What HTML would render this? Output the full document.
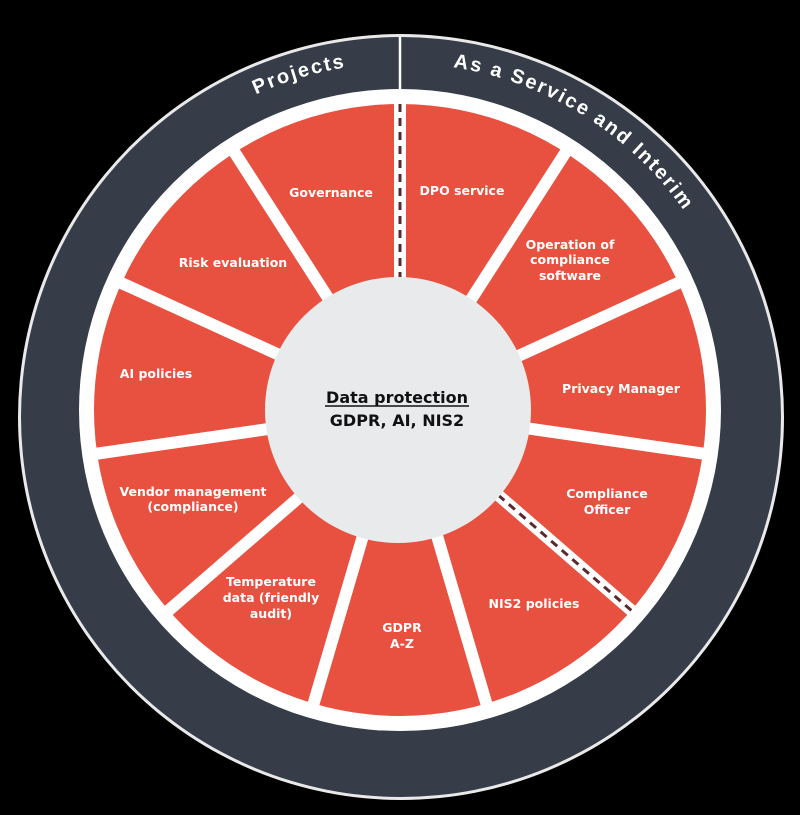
<!DOCTYPE html>
<html><head><meta charset="utf-8"><style>
html,body{margin:0;padding:0;background:#000;}
svg{display:block}
.l{font-family:"DejaVu Sans","Liberation Sans",sans-serif;font-weight:bold;font-size:12.5px;fill:#fff;text-anchor:middle}
.r{font-family:"Liberation Sans",sans-serif;font-weight:bold;font-size:20px;fill:#fff;letter-spacing:2px}
.c{font-family:"DejaVu Sans","Liberation Sans",sans-serif;font-weight:bold;font-size:16px;fill:#111;text-anchor:middle}
</style></head><body>
<svg width="800" height="815" viewBox="0 0 800 815" xmlns="http://www.w3.org/2000/svg">
<rect width="800" height="815" fill="#000"/>
<circle cx="401" cy="417" r="383" fill="#e9e9ea"/>
<circle cx="401" cy="417" r="380" fill="#363d48"/>
<line x1="400" y1="36" x2="400" y2="95" stroke="#fff" stroke-width="2.5"/>
<circle cx="400" cy="410" r="321" fill="#fff"/>
<circle cx="400" cy="410" r="306" fill="#e8503f"/>
<g stroke="#fff" stroke-width="12">
<line x1="400" y1="300" x2="400" y2="98" transform="rotate(0 400 410)"/>
<line x1="400" y1="300" x2="400" y2="98" transform="rotate(32.73 400 410)"/>
<line x1="400" y1="300" x2="400" y2="98" transform="rotate(65.45 400 410)"/>
<line x1="400" y1="300" x2="400" y2="98" transform="rotate(98.18 400 410)"/>
<line x1="400" y1="300" x2="400" y2="98" transform="rotate(130.9 400 410)"/>
<line x1="400" y1="300" x2="400" y2="98" transform="rotate(163.6 400 410)"/>
<line x1="400" y1="300" x2="400" y2="98" transform="rotate(196.4 400 410)"/>
<line x1="400" y1="300" x2="400" y2="98" transform="rotate(229.1 400 410)"/>
<line x1="400" y1="300" x2="400" y2="98" transform="rotate(261.8 400 410)"/>
<line x1="400" y1="300" x2="400" y2="98" transform="rotate(294.5 400 410)"/>
<line x1="400" y1="300" x2="400" y2="98" transform="rotate(327.3 400 410)"/>
</g>
<g stroke="#5b2a2f" stroke-width="3" stroke-dasharray="8 6">
<line x1="400" y1="104" x2="400" y2="280"/>
<line x1="400" y1="104" x2="400" y2="280" transform="rotate(130.9 400 410)"/>
</g>
<circle cx="398" cy="410" r="133" fill="#e9eaec"/>
<defs><path id="arc" d="M 53,410 A 347 347 0 0 1 747,410"/></defs>
<text class="r"><textPath href="#arc" startOffset="396">Projects</textPath></text>
<text class="r"><textPath href="#arc" startOffset="598">As a Service and Interim</textPath></text>
<text class="l" x="331" y="197">Governance</text>
<text class="l" x="462" y="195">DPO service</text>
<text class="l" x="570" y="249">Operation of</text>
<text class="l" x="570" y="264">compliance</text>
<text class="l" x="570" y="280">software</text>
<text class="l" x="621" y="393">Privacy Manager</text>
<text class="l" x="607" y="498">Compliance</text>
<text class="l" x="607" y="514">Officer</text>
<text class="l" x="534" y="608">NIS2 policies</text>
<text class="l" x="402" y="632">GDPR</text>
<text class="l" x="402" y="648">A-Z</text>
<text class="l" x="271" y="586">Temperature</text>
<text class="l" x="271" y="602">data (friendly</text>
<text class="l" x="271" y="618">audit)</text>
<text class="l" x="193" y="496">Vendor management</text>
<text class="l" x="193" y="511">(compliance)</text>
<text class="l" x="156" y="378">AI policies</text>
<text class="l" x="233" y="267">Risk evaluation</text>
<text class="c" x="397" y="403">Data protection</text>
<line x1="325" y1="406" x2="469" y2="406" stroke="#111" stroke-width="1.5"/>
<text class="c" x="397" y="426">GDPR, AI, NIS2</text>
</svg>
</body></html>
